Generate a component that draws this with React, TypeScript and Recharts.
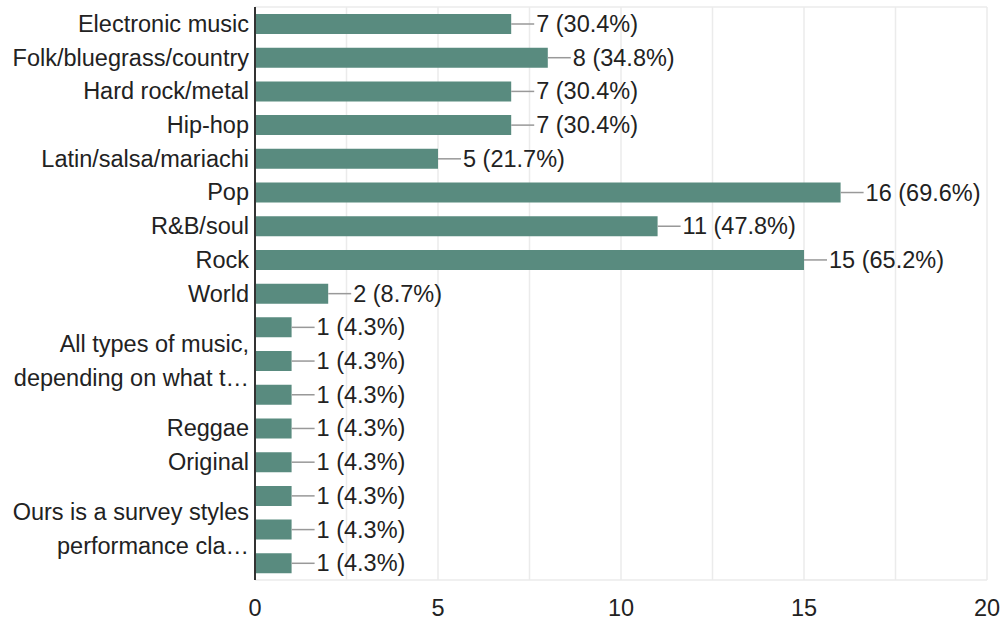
import { Bar, BarChart, CartesianGrid, LabelList, XAxis, YAxis } from "recharts";

const categories = [
  "Electronic music",
  "Folk/bluegrass/country",
  "Hard rock/metal",
  "Hip-hop",
  "Latin/salsa/mariachi",
  "Pop",
  "R&B/soul",
  "Rock",
  "World",
  "",
  "All types of music,\ndepending on what t…",
  "",
  "Reggae",
  "Original",
  "",
  "Ours is a survey styles\nperformance cla…",
  "",
];
const counts = [7, 8, 7, 7, 5, 16, 11, 15, 2, 1, 1, 1, 1, 1, 1, 1, 1];
const percents = [
  "30.4%", "34.8%", "30.4%", "30.4%", "21.7%", "69.6%", "47.8%", "65.2%", "8.7%",
  "4.3%", "4.3%", "4.3%", "4.3%", "4.3%", "4.3%", "4.3%", "4.3%",
];
const xTicks = [0, 2.5, 5, 7.5, 10, 12.5, 15, 17.5, 20];

const data = categories.map((c, i) => ({ idx: i, name: c, count: counts[i], pct: percents[i] }));

const FONT = "Arial, 'Liberation Sans', Helvetica, sans-serif";
const FS = 23.5;
const BAR = "#598b7f";

const YTick = (props: any) => {
  const { x, y, payload } = props;
  const lines = (categories[payload.value] || "").split("\n");
  if (!lines[0]) return null;
  const lh = 34;
  const start = -((lines.length - 1) * lh) / 2;
  return (
    <g>
      {lines.map((l: string, i: number) => (
        <text key={i} x={x} y={y + start + i * lh} textAnchor="end" dominantBaseline="central"
          fontSize={FS} fontFamily={FONT} fill="#222">{l}</text>
      ))}
    </g>
  );
};

const XTick = (props: any) => {
  const { x, y, payload } = props;
  if (payload.value % 5 !== 0) return null;
  return (
    <text x={x} y={y + 20} textAnchor="middle" dominantBaseline="central"
      fontSize={FS} fontFamily={FONT} fill="#222">{payload.value}</text>
  );
};

const ValueLabel = (props: any) => {
  const { x, y, width, height, index } = props;
  const cy = y + height / 2;
  const ex = x + width;
  return (
    <g>
      <line x1={ex} y1={cy} x2={ex + 23} y2={cy} stroke="#999" strokeWidth={1.5} />
      <text x={ex + 25} y={cy} dominantBaseline="central" fontSize={FS} fontFamily={FONT} fill="#222">
        {`${counts[index]} (${percents[index]})`}
      </text>
    </g>
  );
};

export default function App() {
  return (
    <div style={{ position: "absolute", left: 0, top: 0, background: "#fff" }}>
      <BarChart
        width={1001}
        height={620}
        data={data}
        layout="vertical"
        margin={{ top: 7, right: 14, bottom: 10, left: 5 }}
      >
        <CartesianGrid
          stroke="#ebebeb"
          strokeWidth={1.5}
          horizontalCoordinatesGenerator={({ offset }: any) => [offset.top, offset.top + offset.height]}
        />
        <XAxis
          type="number"
          domain={[0, 20]}
          ticks={xTicks}
          axisLine={false}
          tickLine={false}
          height={30}
          tick={<XTick />}
          interval={0}
        />
        <YAxis
          type="category"
          dataKey="idx"
          width={250}
          axisLine={{ stroke: "#333", strokeWidth: 2 }}
          tickLine={false}
          tick={<YTick />}
          tickMargin={0}
          interval={0}
        />
        <Bar dataKey="count" fill={BAR} barSize={20} isAnimationActive={false}>
          <LabelList dataKey="count" content={<ValueLabel />} />
        </Bar>
      </BarChart>
    </div>
  );
}
